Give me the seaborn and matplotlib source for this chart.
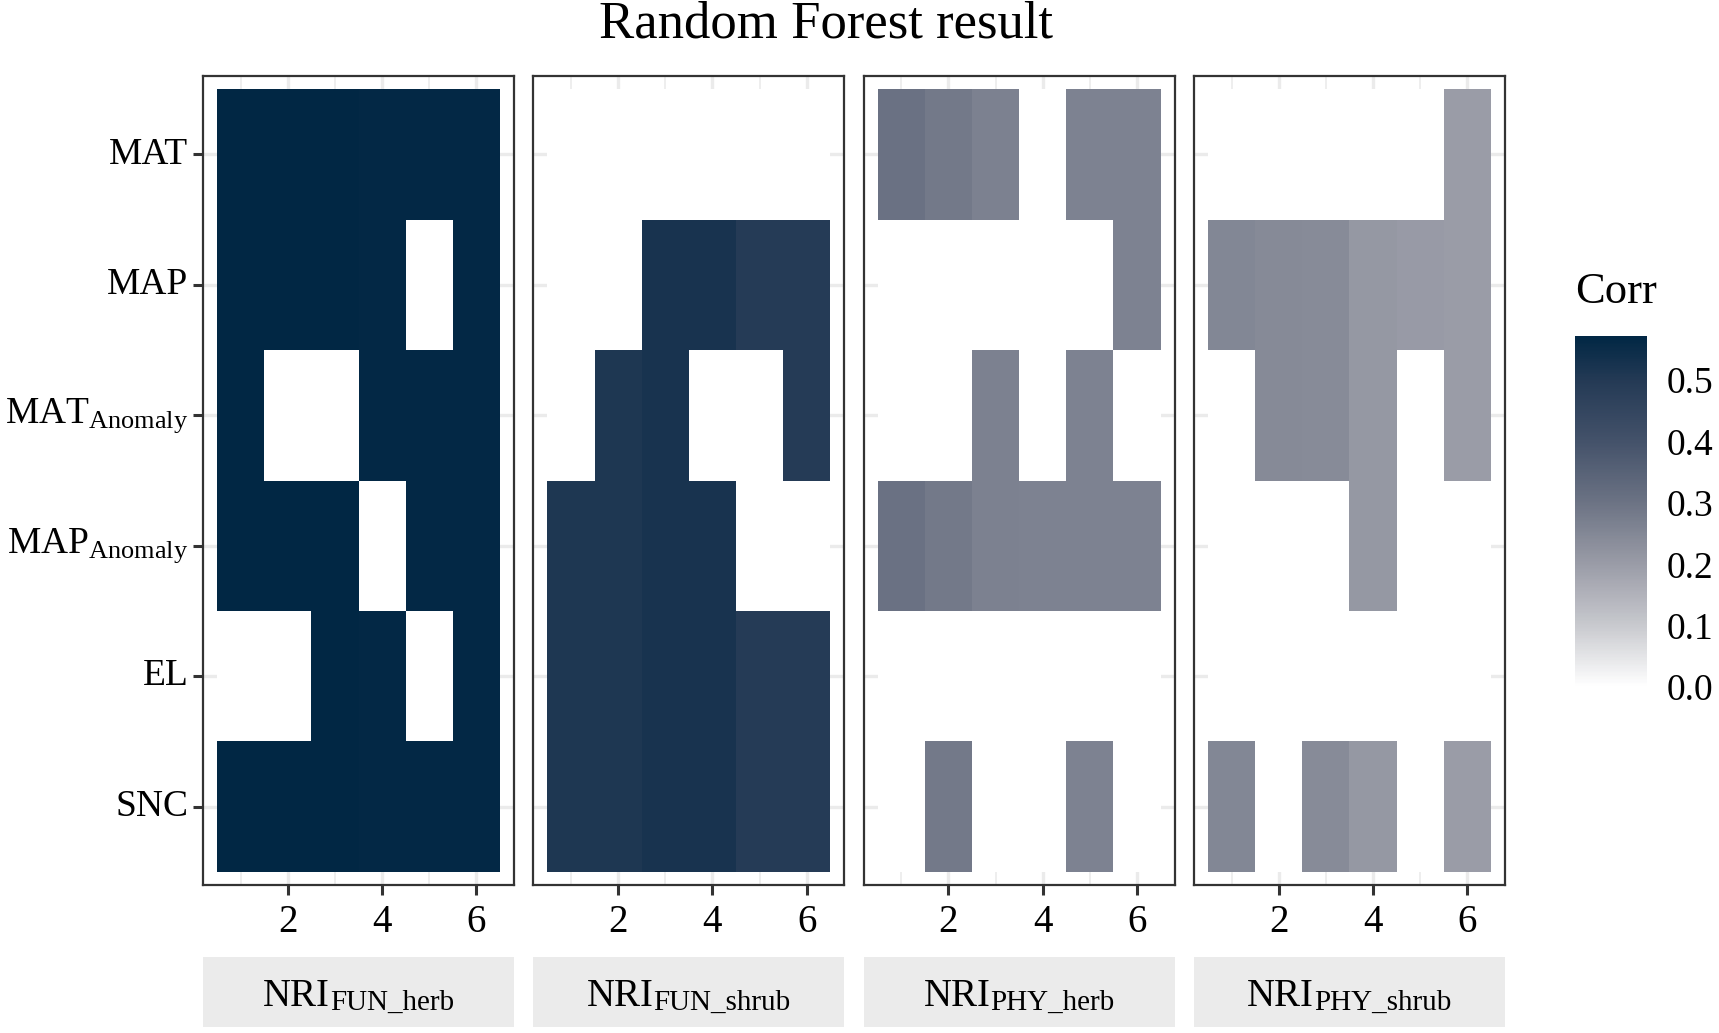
import numpy as np
import pandas as pd
import matplotlib
matplotlib.use("Agg")
import matplotlib.pyplot as plt
from matplotlib.colors import LinearSegmentedColormap
import seaborn as sns

# ---------------- data ----------------
variables = ["MAT", "MAP", "MAT_Anomaly", "MAP_Anomaly", "EL", "SNC"]
var_labels = ["MAT", "MAP", r"$\mathrm{MAT}_{\mathrm{Anomaly}}$",
              r"$\mathrm{MAP}_{\mathrm{Anomaly}}$", "EL", "SNC"]
x_levels = [1, 2, 3, 4, 5, 6]
facets = ["FUN_herb", "FUN_shrub", "PHY_herb", "PHY_shrub"]
facet_prefix = "NRI"
nan = np.nan
# rows: MAT, MAP, MAT_Anomaly, MAP_Anomaly, EL, SNC ; columns: x = 1..6
corr_fun_herb = [
    [0.572, 0.572, 0.572, 0.566, 0.566, 0.566],
    [0.572, 0.572, 0.572, 0.566, nan,   0.566],
    [0.572, nan,   nan,   0.566, 0.566, 0.566],
    [0.572, 0.572, 0.572, nan,   0.566, 0.566],
    [nan,   nan,   0.572, 0.566, nan,   0.566],
    [0.572, 0.572, 0.572, 0.566, 0.566, 0.566],
]
corr_fun_shrub = [
    [nan,   nan,   nan,   nan,   nan,   nan],
    [nan,   nan,   0.525, 0.525, 0.495, 0.495],
    [nan,   0.510, 0.525, nan,   nan,   0.495],
    [0.510, 0.510, 0.525, 0.525, nan,   nan],
    [0.510, 0.510, 0.525, 0.525, 0.495, 0.495],
    [0.510, 0.510, 0.525, 0.525, 0.495, 0.495],
]
corr_phy_herb = [
    [0.305, 0.285, 0.265, nan,   0.262, 0.262],
    [nan,   nan,   nan,   nan,   nan,   0.262],
    [nan,   nan,   0.265, nan,   0.262, nan],
    [0.305, 0.285, 0.265, 0.263, 0.262, 0.262],
    [nan,   nan,   nan,   nan,   nan,   nan],
    [nan,   0.285, nan,   nan,   0.262, nan],
]
corr_phy_shrub = [
    [nan,   nan,   nan,   nan,   nan,   0.200],
    [0.252, 0.245, 0.242, 0.212, 0.205, 0.200],
    [nan,   0.245, 0.242, 0.212, nan,   0.200],
    [nan,   nan,   nan,   0.212, nan,   nan],
    [nan,   nan,   nan,   nan,   nan,   nan],
    [0.252, nan,   0.242, 0.212, nan,   0.200],
]
panels = [corr_fun_herb, corr_fun_shrub, corr_phy_herb, corr_phy_shrub]
cbar_ticks = [0.0, 0.1, 0.2, 0.3, 0.4, 0.5]
vmin, vmax = 0.0, 0.572

# ---------------- style ----------------
sns.set_theme(style="white")
plt.rcParams["font.family"] = ["Liberation Serif", "DejaVu Serif"]
plt.rcParams["mathtext.fontset"] = "custom"
plt.rcParams["mathtext.rm"] = "Liberation Serif"
plt.rcParams["mathtext.it"] = "Liberation Serif:italic"
plt.rcParams["mathtext.bf"] = "Liberation Serif:bold"
plt.rcParams["text.color"] = "black"

node_vals = [0.0, 0.1, 0.2, 0.3, 0.4, 0.5, vmax]
node_cols = ["#ffffff", "#c8c9ce", "#9a9ca7", "#6c7384", "#44526a", "#243a55", "#012744"]
cmap = LinearSegmentedColormap.from_list(
    "corr", [(v / vmax, c) for v, c in zip(node_vals, node_cols)])
cmap.set_bad("white")

W, H = 1719, 1033
fig = plt.figure(figsize=(W / 100, H / 100), dpi=100)

pw, gap = 311, 19.33
left0 = 203
ptop, pbot = 76, 885
stop, sbot = 957, 1027
cax = fig.add_axes([1575 / W, 1 - 687 / H, 72 / W, 351 / H])

strip_axes = []
for i, mat in enumerate(panels):
    lx = left0 + i * (pw + gap)
    ax = fig.add_axes([lx / W, 1 - pbot / H, pw / W, (pbot - ptop) / H])
    df = pd.DataFrame(mat, index=variables, columns=x_levels)
    # NaN cells are drawn in the colormap's "bad" colour (white)
    sns.heatmap(df, ax=ax, cmap=cmap, vmin=vmin, vmax=vmax,
                mask=np.zeros(df.shape, dtype=bool),
                cbar=(i == 0), cbar_ax=cax if i == 0 else None,
                linewidths=0, square=False)
    ax.set_xlim(-0.3, len(x_levels) + 0.3)
    ax.set_ylim(len(variables) + 0.1, -0.1)
    ax.set_facecolor("white")
    major_pos = [j + 0.5 for j, c in enumerate(x_levels) if c % 2 == 0]
    major_lab = [str(c) for c in x_levels if c % 2 == 0]
    minor_pos = [j + 0.5 for j, c in enumerate(x_levels) if c % 2 == 1]
    ax.set_xticks(major_pos)
    ax.set_xticklabels(major_lab, rotation=0)
    ax.set_xticks(minor_pos, minor=True)
    ax.set_yticks([k + 0.5 for k in range(len(variables))])
    if i == 0:
        ax.set_yticklabels(var_labels, rotation=0)
    else:
        ax.set_yticklabels([])
    ax.set_xlabel("")
    ax.set_ylabel("")
    ax.set_axisbelow(True)
    ax.grid(True, which="major", color="#ebebeb", lw=2.4)
    ax.grid(True, which="minor", axis="x", color="#ebebeb", lw=1.2)
    ax.tick_params(axis="x", which="major", length=7.5, width=2.2, color="#333333",
                   labelsize=28, pad=6, bottom=True, labelcolor="black")
    ax.tick_params(axis="x", which="minor", length=0)
    ax.tick_params(axis="y", which="major", length=7.5 if i == 0 else 0, width=2.2,
                   color="#333333", labelsize=27, pad=3, left=True, labelcolor="black")
    for s in ax.spines.values():
        s.set_visible(True)
        s.set_color("#333333")
        s.set_linewidth(1.6)
    sax = fig.add_axes([lx / W, 1 - sbot / H, pw / W, (sbot - stop) / H])
    sax.set_facecolor("#ebebeb")
    sax.set_xticks([])
    sax.set_yticks([])
    for s in sax.spines.values():
        s.set_visible(False)
    strip_axes.append(sax)

# colorbar styling
cax.set_yticks(cbar_ticks)
cax.set_yticklabels([f"{t:.1f}" for t in cbar_ticks])
cax.tick_params(axis="y", which="major", direction="in", length=10, width=1.2,
                color="white", left=True, right=True, labelleft=False,
                labelright=True, labelsize=27, pad=14, labelcolor="black")
cax.tick_params(axis="y", which="minor", length=0)
for s in cax.spines.values():
    s.set_visible(False)
fig.text(1575 / W, 1 - 292 / H, "Corr", fontsize=32, ha="left", va="center",
         color="black")

fig.text(826 / W, 1 - 24 / H, "Random Forest result", fontsize=38,
         ha="center", va="center", color="black")

# strip labels: "NRI" + lowered smaller suffix, centred as a pair
renderer = fig.canvas.get_renderer()
for sax, fac in zip(strip_axes, facets):
    bb = sax.get_window_extent(renderer)
    cx = (bb.x0 + bb.x1) / 2
    base_y = bb.y0 + 0.30 * bb.height
    t1 = fig.text(0, 0, facet_prefix, fontsize=28, ha="left", va="baseline",
                  color="black")
    t2 = fig.text(0, 0, fac, fontsize=21, ha="left", va="baseline", color="black")
    w1 = t1.get_window_extent(renderer).width
    w2 = t2.get_window_extent(renderer).width
    x0 = cx - (w1 + w2) / 2
    t1.set_position((x0 / W, base_y / H))
    t2.set_position(((x0 + w1) / W, (base_y - 4) / H))

fig.savefig("out.png", dpi=100)
